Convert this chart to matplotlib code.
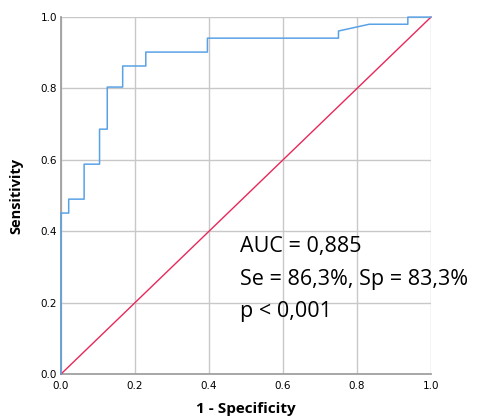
import matplotlib
matplotlib.use('Agg')
import matplotlib.pyplot as plt

# ROC steps (1 - specificity, sensitivity)
fpr = [0.0, 0.0, 0.0208, 0.0208, 0.0625, 0.0625, 0.1042, 0.1042, 0.125, 0.125,
       0.1667, 0.1667, 0.2292, 0.2292, 0.3958, 0.3958, 0.75, 0.75, 0.8333,
       0.9375, 0.9375, 1.0]
tpr = [0.0, 0.451, 0.451, 0.490, 0.490, 0.588, 0.588, 0.686, 0.686, 0.804,
       0.804, 0.863, 0.863, 0.902, 0.902, 0.941, 0.941, 0.961, 0.980,
       0.980, 1.0, 1.0]
ref_line = [0.0, 1.0]
ticks = [0.0, 0.2, 0.4, 0.6, 0.8, 1.0]
stats_text = ['AUC = 0,885', 'Se = 86,3%, Sp = 83,3%', 'p < 0,001']

plt.rcParams['font.family'] = ['Open Sans', 'DejaVu Sans']

fig = plt.figure(figsize=(4.9, 4.17), dpi=100)
ax = fig.add_axes([0.1245, 0.103, 0.755, 0.856])

ax.plot(ref_line, ref_line, color='#e8285a', lw=1.0, clip_on=False, zorder=3)
ax.plot(fpr, tpr, color='#5aa2e6', lw=1.1, clip_on=False, zorder=4)

ax.set_xlim(0, 1)
ax.set_ylim(0, 1)
ax.set_xticks(ticks)
ax.set_yticks(ticks)
ax.set_xticklabels(['%.1f' % t for t in ticks], fontsize=7.5, family='DejaVu Sans')
ax.set_yticklabels(['%.1f' % t for t in ticks], fontsize=7.5, family='DejaVu Sans')
ax.tick_params(axis='x', length=0, pad=5)
ax.tick_params(axis='y', length=0, pad=3)
ax.grid(True, color='#c8c8c8', lw=1.0)
ax.set_axisbelow(True)
for s in ['top', 'right']:
    ax.spines[s].set_visible(False)
for s in ['left', 'bottom']:
    ax.spines[s].set_color('#a0a0a0')
    ax.spines[s].set_linewidth(1.3)

ax.set_xlabel('1 - Specificity', fontsize=11, fontweight='bold', labelpad=8)
ax.set_ylabel('Sensitivity', fontsize=10.5, fontweight='bold', labelpad=12)

for i, t in enumerate(stats_text):
    ax.text(0.484, 0.356 - i * 0.091, t, fontsize=15.5, va='center', ha='left')

fig.savefig('out.png', dpi=100)
